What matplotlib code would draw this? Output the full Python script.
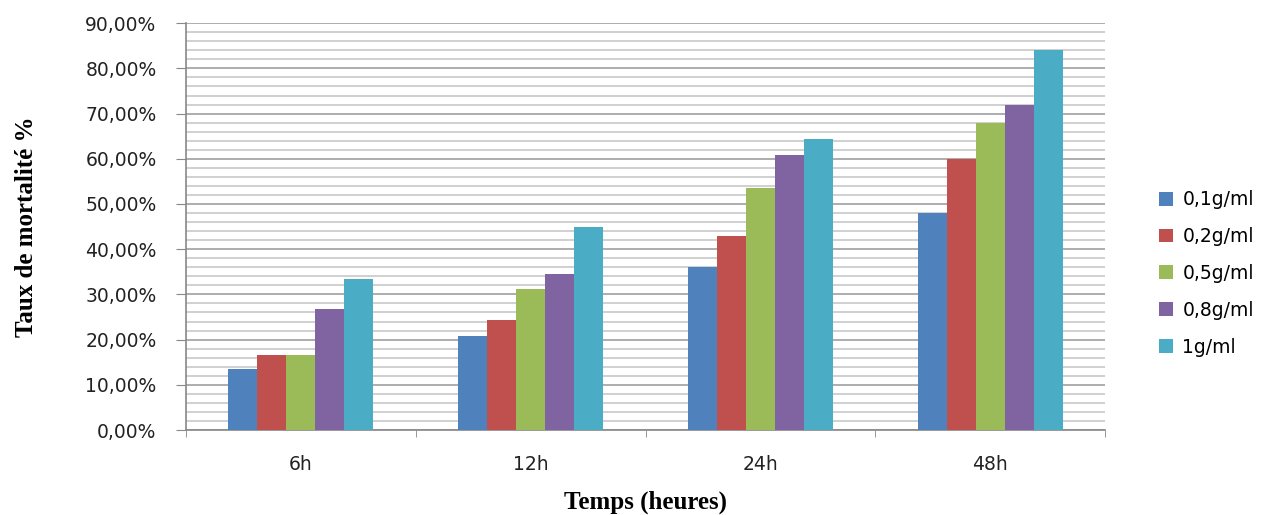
import numpy as np
import matplotlib.pyplot as plt
from matplotlib.ticker import MultipleLocator, FuncFormatter

# données (taux de mortalité en %)
temps = ['6h', '12h', '24h', '48h']
doses = ['0,1g/ml', '0,2g/ml', '0,5g/ml', '0,8g/ml', '1g/ml']
mort_01 = [13.5, 20.8, 36.0, 48.0]
mort_02 = [16.7, 24.4, 43.0, 60.0]
mort_05 = [16.7, 31.2, 53.5, 68.0]
mort_08 = [26.7, 34.5, 60.8, 72.0]
mort_1 = [33.3, 45.0, 64.3, 84.0]
couleurs = ['#4F81BD', '#C0504D', '#9BBB59', '#8064A2', '#4BACC6']

series = [mort_01, mort_02, mort_05, mort_08, mort_1]

fig = plt.figure(figsize=(12.72, 5.15), dpi=100)
ax = fig.add_axes([0.146, 0.165, 0.723, 0.79])

x = np.arange(len(temps))
w = 0.126
for i, (vals, lab, c) in enumerate(zip(series, doses, couleurs)):
    ax.bar(x + (i - 2) * w, vals, width=w, color=c, label=lab, zorder=3)

ax.set_xlim(-0.5, len(temps) - 0.5)
ax.set_ylim(0, 90)
ax.yaxis.set_major_locator(MultipleLocator(10))
ax.yaxis.set_minor_locator(MultipleLocator(2))
ax.yaxis.set_major_formatter(FuncFormatter(lambda v, p: f'{v:.2f}%'.replace('.', ',')))
ax.grid(axis='y', which='major', color='#A0A0A0', lw=1.2, zorder=0)
ax.grid(axis='y', which='minor', color='#C8C8C8', lw=1.2, zorder=0)
ax.set_xticks(x)
ax.set_xticklabels(temps)
ax.set_xticks(np.arange(len(temps) + 1) - 0.5, minor=True)
ax.tick_params(axis='x', which='major', length=0, pad=18)
ax.tick_params(axis='x', which='minor', length=5, color='#888888')
ax.tick_params(axis='y', which='major', length=7, color='#888888', pad=14)
ax.tick_params(axis='y', which='minor', length=0)
ax.tick_params(labelsize=13.5, labelcolor='#222222')

for s in ['top', 'right']:
    ax.spines[s].set_visible(False)
for s in ['left', 'bottom']:
    ax.spines[s].set_color('#888888')
    ax.spines[s].set_linewidth(1.2)

ax.set_xlabel('Temps (heures)', fontsize=18, fontweight='bold',
              family='Liberation Serif', labelpad=12)
ax.set_ylabel('Taux de mortalité %', fontsize=18, fontweight='bold',
              family='Liberation Serif', labelpad=34)

ax.legend(loc='center left', bbox_to_anchor=(1.04, 0.385), frameon=False,
          fontsize=13.5, handlelength=0.75, handleheight=0.75,
          labelspacing=0.95, handletextpad=0.5)

fig.savefig('out.png')
